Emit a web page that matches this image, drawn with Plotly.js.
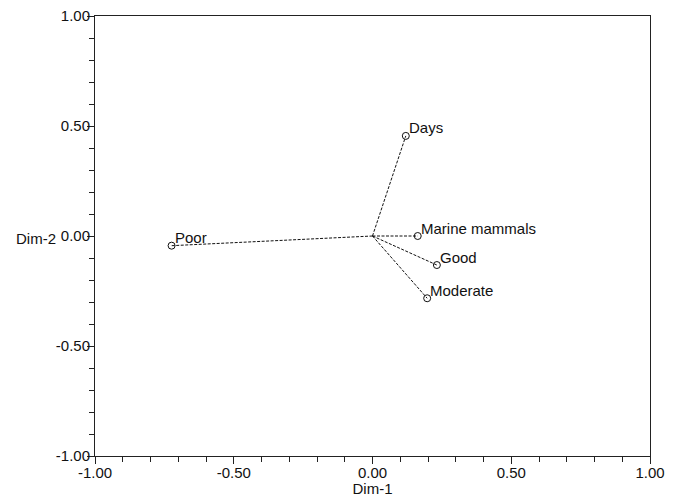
<!DOCTYPE html>
<html>
<head>
<meta charset="utf-8">
<script src="https://cdn.plot.ly/plotly-3.0.1.min.js"></script>
<style>html,body{margin:0;padding:0;background:#fff;}#chart{width:681px;height:497px;}</style>
</head>
<body>
<div id="chart"></div>
<script>
// Data
const labels = ["Days", "Marine mammals", "Good", "Moderate", "Poor"];
const dim1 = [0.120, 0.163, 0.232, 0.197, -0.724];
const dim2 = [0.455, 0.000, -0.132, -0.283, -0.044];
const tickVals = [-1, -0.5, 0, 0.5, 1];
const tickText = ["-1.00", "-0.50", "0.00", "0.50", "1.00"];

// Build segments from origin to each point
const segX = [], segY = [];
for (let i = 0; i < labels.length; i++) {
  segX.push(0, dim1[i], null);
  segY.push(0, dim2[i], null);
}

const font = {family: "Liberation Sans, Arial, sans-serif", size: 15, color: "#111"};

const traces = [
  {
    x: segX, y: segY, mode: "lines", type: "scatter",
    line: {color: "#111", width: 1, dash: "3px,1.5px"},
    hoverinfo: "skip", showlegend: false
  },
  {
    x: dim1, y: dim2, mode: "markers", type: "scatter",
    marker: {symbol: "circle-open", size: 7, color: "#111", line: {width: 1, color: "#111"}},
    showlegend: false
  }
];

const pointLabels = labels.map((t, i) => ({
  text: t, x: dim1[i], y: dim2[i], xref: "x", yref: "y",
  xanchor: "left", yanchor: "middle", xshift: 2, yshift: 8,
  showarrow: false, font: font, borderpad: 0
}));

const axisCommon = {
  range: [-1, 1],
  tickvals: tickVals, ticktext: tickText,
  ticks: "outside", ticklen: 7, tickwidth: 1, tickcolor: "#222",
  minor: {dtick: 0.1, ticks: "outside", ticklen: 5, tickwidth: 1, tickcolor: "#222", showgrid: false},
  showline: true, linecolor: "#222", linewidth: 1, mirror: true,
  showgrid: false, zeroline: false,
  tickfont: font, fixedrange: true
};

const layout = {
  width: 681, height: 497,
  margin: {l: 95, r: 31, t: 16, b: 41, pad: 0},
  paper_bgcolor: "#fff", plot_bgcolor: "#fff",
  font: font,
  xaxis: Object.assign({}, axisCommon, {
    ticklabelstandoff: -4,
    title: {text: "Dim-1", font: font, standoff: 2}
  }),
  yaxis: Object.assign({}, axisCommon, {ticklabelstandoff: -6}),
  annotations: pointLabels.concat([{
    text: "Dim-2", xref: "paper", yref: "y", x: -0.146, y: -0.01,
    xanchor: "left", yanchor: "middle", showarrow: false, font: font
  }])
};

Plotly.newPlot("chart", traces, layout, {displayModeBar: false, staticPlot: true});
</script>
</body>
</html>
